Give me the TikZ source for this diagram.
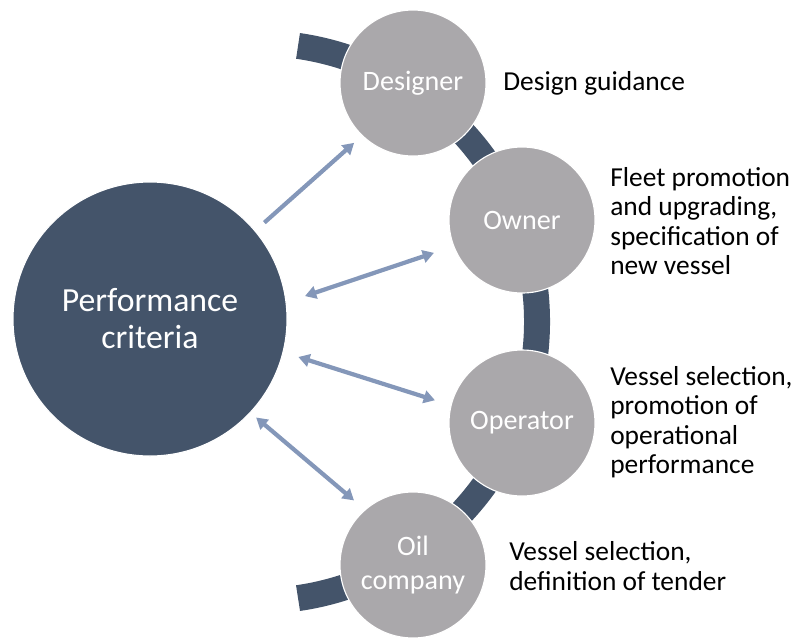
\documentclass[tikz,border=0pt]{standalone}
\usepackage{fontspec}
\setmainfont{Carlito}
\usepackage{xcolor}
\usepackage{tikz}
\usetikzlibrary{arrows.meta}

\definecolor{slate}{RGB}{68,84,106}
\definecolor{stone}{RGB}{170,168,171}
\definecolor{steel}{RGB}{132,151,185}

\tikzset{
    hubcircle/.style={circle, fill=slate, draw=white, line width=0.8pt, minimum size=6.85cm, inner sep=0pt, text=white, align=center, font=\fontsize{24}{26.3}\selectfont},
    rolecircle/.style={circle, fill=stone, draw=white, line width=0.8pt, minimum size=3.65cm, inner sep=0pt, text=white, align=center, font=\fontsize{20}{24.5}\selectfont},
    remark/.style={anchor=west, inner sep=0pt, align=left, font=\fontsize{19.5}{21}\selectfont},
    onelink/.style={draw=steel, line width=3pt, -{Triangle[length=8pt,width=9pt]}},
    twolink/.style={draw=steel, line width=3pt, {Triangle[length=8pt,width=9pt]}-{Triangle[length=8pt,width=9pt]}},
}

\begin{document}
\begin{tikzpicture}
    \useasboundingbox (0, 0) rectangle (19.95, -15.925);

    % band behind the role circles
    \coordinate (hub) at (6.45, -8.05);
    \draw[slate, line width=0.65cm] ([shift={(81.75:6.975)}]hub) arc[start angle=81.75, end angle=-81.75, radius=6.975];

    \node[hubcircle] at (3.75, -7.975) (crit) {Performance\\criteria};
    \node[rolecircle] at (10.325, -2.075) (desg) {Designer};
    \node[rolecircle] at (13.05, -5.5) (ownr) {Owner};
    \node[rolecircle] at (13.05, -10.575) (oper) {Operator};
    \node[rolecircle] at (10.325, -14.125) (oilc) {Oil\\company};

    \node[remark] at (12.575, -2.075) (txt1) {Design guidance};
    \node[remark] at (15.25, -5.525) (txt2) {Fleet promotion\\and upgrading,\\specification of\\new vessel};
    \node[remark] at (15.25, -10.55) (txt3) {Vessel selection,\\promotion of\\operational\\performance};
    \node[remark] at (12.725, -14.15) (txt4) {Vessel selection,\\definition of tender};

    \draw[onelink, shorten <=0.3cm, shorten >=0.26cm] (crit.40.6) -- (desg.226);
    \draw[twolink, shorten <=0.485cm, shorten >=0.51cm] (crit.7.7) -- (ownr.201.3);
    \draw[twolink, shorten <=0.39cm, shorten >=0.41cm] (crit.-14) -- (oper.166.4);
    \draw[twolink, shorten <=0.18cm, shorten >=0.35cm] (crit.-43.3) -- (oilc.131.7);
\end{tikzpicture}
\end{document}
